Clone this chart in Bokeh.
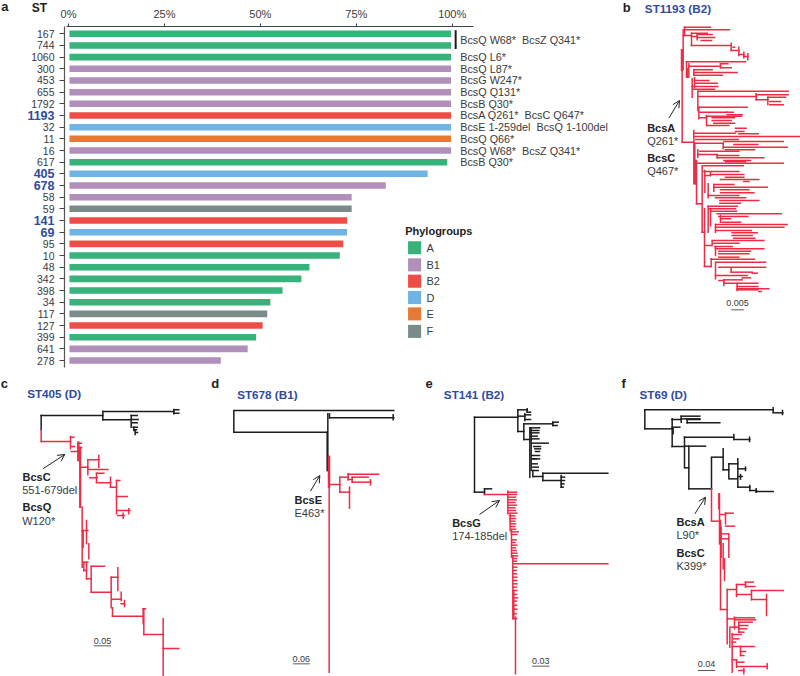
from bokeh.plotting import figure
from bokeh.models import (ColumnDataSource, Range1d, LinearAxis, FixedTicker, Arrow, OpenHead)
from bokeh.core.properties import value
from bokeh.embed import file_html
from bokeh.resources import INLINE

# ---------- panel a data ----------
ST = ["167","744","1060","300","453","655","1792","1193","32","11","16","617","405","678","58",
      "59","141","69","95","10","48","342","398","34","117","127","399","641","278"]
HIGHLIGHT = ["1193","405","678","141","69"]
PCT = [99.7,99.7,99.7,99.7,99.7,99.7,99.7,99.7,99.7,99.7,99.7,98.7,93.6,82.7,73.8,
       73.8,72.6,72.6,71.6,70.7,62.8,60.7,55.8,52.6,51.8,50.6,48.9,46.7,39.7]
GROUP = ["A","A","A","B1","B1","B1","B1","B2","D","E","B1","A","D","B1","B1",
         "F","B2","D","B2","A","A","A","A","A","F","B2","A","B1","B1"]
GROUP_NAMES = ["A","B1","B2","D","E","F"]
GROUP_COLORS = {"A":"#36b27a","B1":"#b08fba","B2":"#ee4d46","D":"#6fb4e3","E":"#e47a36","F":"#7b8b8a"}
PCT_TICKS = [0,25,50,75,100]
MUT_LABELS = ["BcsQ W68*\u00a0\u00a0BcsZ Q341*","BcsQ L6*","BcsQ L87*","BcsG W247*","BcsQ Q131*","BcsB Q30*",
              "BcsA Q261*\u00a0\u00a0BcsC Q647*","BcsE 1-259del\u00a0\u00a0BcsQ 1-100del","BcsQ Q66*","BcsQ W68*\u00a0\u00a0BcsZ Q341*","BcsB Q30*"]
MUT_ROWS = [0.5,2,3,4,5,6,7,8,9,10,11]
LEG_ROWS = [18.33,19.8,21.2,22.6,24.0,25.5]

# ---------- trees: (from, to, at), in tree units ----------
B_H = [(222,300,80),(222,357,88),(218,243,105),(243,290,98),(243,260,108),(260,305,102),(260,312,111),(272,303,120),
 (243,362,135),(362,385,150),(385,400,162),(400,412,168),(368,372,140),(228,405,184),(235,330,197),(330,352,190),(330,362,202),
 (250,305,208),(250,380,216),(250,335,224),(252,295,240),(255,320,248),(245,322,258),(248,312,266),
 (262,533,272),(262,437,288),(437,533,283),(437,472,298),(472,525,290),(478,510,303),(478,518,313),
 (265,410,320),(268,350,335),(350,368,335),(350,395,343),(268,288,352),(288,393,347),(305,372,352),(305,362,360),(310,372,368),(290,355,375),
 (215,250,425),(250,375,398),(375,407,383),(375,400,393),(385,443,400),(250,570,408),(255,383,417),(255,338,428),(340,518,423),(340,530,440),
 (370,442,432),(345,432,448),(262,268,462),(268,385,452),(270,320,462),(320,385,465),(320,460,472),(340,420,480),(345,405,484),(255,518,488),
 (280,398,496),(280,385,513),(300,400,522),(330,445,537),(345,400,530),(400,415,543),(283,300,525),
 (310,370,552),(310,470,560),(330,415,568),(330,430,577),(293,385,585),(315,405,592),(328,445,600),(328,390,608),
 (293,380,617),(295,375,625),(300,378,632),(320,512,640),(325,412,648),(330,360,655),(335,390,665),(315,530,672),(315,520,680),(315,422,690),
 (365,440,697),(365,425,705),(370,433,713),(258,275,610),(275,282,695),
 (305,460,720),(310,385,728),(313,365,738),(315,460,745),(325,420,752),(325,415,760),(325,385,770),(283,303,735),
 (282,300,798),(302,432,776),(315,465,785),(325,465,800),(362,425,815),(425,440,818),(315,410,825),(340,395,838),(395,420,832),(340,442,848),
 (380,442,858),(380,475,865),(445,452,873),(325,340,840),(380,442,868)]
B_V = [(215,148,425),(213,148,210),(218,88,208),(222,80,105),(243,98,135),(260,102,118),(362,128,150),(385,140,165),(400,155,172),(412,160,178),
 (228,184,230),(231,205,230),(235,190,230),(330,190,202),(250,208,224),(252,232,262),(245,235,290),(262,272,330),(437,280,298),(472,290,312),(265,320,355),
 (288,345,375),(250,390,550),(253,430,550),(338,428,445),(262,448,470),(320,462,472),(258,480,610),(255,480,550),(275,496,695),(283,510,575),(300,515,525),
 (310,552,572),(293,550,592),(293,617,695),(300,625,675),(315,672,695),(330,645,665),(282,625,798),(305,722,735),(315,738,765),(302,775,798),
 (315,787,835),(362,802,815),(340,838,855),(380,848,870)]
B_SCALE = (362,400,928)

C_BLACK_H = [(122,307,135),(307,520,123),(520,535,118),(520,535,128),(307,392,148),(392,410,135),(395,413,147),(395,410,157),(398,410,170),(402,408,178),(405,411,186)]
C_BLACK_V = [(122,135,178),(307,123,148),(520,117,130),(392,135,170),(400,170,180),(404,178,192)]
C_H = [(122,210,213),(210,220,200),(212,222,228),(212,232,243),(232,243,218),(232,243,232),(240,262,290),(262,295,268),(262,322,297),(268,290,322),
 (288,310,308),(288,330,337),(330,348,350),(348,358,330),(348,380,378),(352,388,420),(352,372,435),
 (245,262,480),(250,262,575),(250,258,600),(258,272,625),(272,312,587),(272,332,665),(332,352,620),(335,362,686),(362,372,700),
 (336,428,737),(428,435,715),(430,488,792),(488,535,834)]
C_V = [(122,178,213),(210,198,235),(232,215,270),(235,215,270),(238,230,410),(240,230,410),(262,268,313),(295,255,290),(288,308,335),(330,320,350),(348,330,430),
 (385,415,430),(368,428,443),(245,410,590),(258,450,520),(265,520,565),(248,480,530),(250,575,600),(258,575,625),(272,588,665),(332,620,712),
 (352,592,660),(362,665,690),(372,690,708),(336,712,737),(428,715,760),(430,715,792),(488,745,915)]
C_SCALE = (280,332,826)

D_BLACK_H = [(85,565,120),(85,365,185),(372,565,142)]
D_BLACK_V = [(85,122,185),(367,130,300),(365,185,300),(563,133,148),(372,130,142)]
D_H = [(370,403,342),(403,428,320),(428,520,311),(440,488,320),(440,495,335),(428,440,327),(403,432,365)]
D_V = [(371,258,905),(369,258,350),(372,258,350),(403,320,365),(428,310,328),(440,320,335),(495,328,343),(432,350,413)]
D_SCALE = (262,313,880)

E_BLACK_H = [(177,307,140),(307,335,118),(307,328,137),(328,345,133),(328,345,147),(307,325,183),(325,412,160),(412,428,155),(412,425,165),(325,343,207),
 (343,372,172),(343,370,180),(345,370,187),(345,365,197),(348,370,205),(350,398,218),(355,375,228),(358,375,235),(360,372,243),
 (348,372,255),(350,362,265),(350,372,265),(350,365,280),(352,368,290),(352,368,300),(352,382,318),(382,577,308),(382,435,330),
 (437,447,320),(437,447,330),(437,445,340),(437,443,350),(177,207,365),(207,228,355),(335,345,125)]
E_BLACK_V = [(177,140,365),(307,118,183),(335,115,125),(328,130,150),(325,160,207),(412,155,165),(343,172,320),(347,172,300),(352,300,318),(382,308,330),(437,315,350),(207,355,372)]
E_H = [(207,277,372),(277,303,365),(277,303,372),(278,300,380),(278,302,388),(279,298,396),(279,303,404),(280,298,412),(280,300,420),(281,304,428),
 (282,298,436),(283,300,444),(284,298,452),(285,300,460),(286,298,468),(287,308,484),(288,300,476),(288,304,492),(289,302,508),(289,298,516),(290,304,524),
 (290,300,532),(291,302,540),(291,304,548),(292,306,556),(292,302,564),(292,303,572),(292,577,580),(292,304,590),(292,302,600),(292,303,610),(292,304,620),
 (293,303,630),(293,304,640),(293,302,650),(294,304,660),(294,303,672),(294,306,682),(294,302,692),(294,303,704),(294,304,716),(294,302,730),(293,303,744)]
E_V = [(277,362,430),(284,430,480),(288,480,560),(292,556,745),(295,660,745),(300,740,910)]
E_SCALE = (350,402,887)

F_BLACK_H = [(103,488,118),(488,517,127),(103,185,175),(185,212,147),(212,268,137),(212,268,145),(230,268,147),(230,328,157),(185,208,170),(185,222,228),
 (222,370,200),(370,418,207),(225,285,227),(225,235,292),(235,303,355),(303,338,260),(338,355,298),(355,382,280),(382,405,295),(382,395,318),(358,380,325),
 (382,418,350),(418,438,360),(437,488,363)]
F_BLACK_V = [(103,118,175),(488,112,125),(516,120,132),(185,145,228),(212,137,155),(230,147,157),(222,200,292),(370,192,207),(417,200,213),(235,227,355),
 (303,262,355),(338,235,298),(355,280,325),(382,265,350),(405,290,300),(390,312,326),(418,345,360),(437,355,365),(188,175,190)]
F_H = [(303,327,452),(330,345,432),(345,368,428),(345,372,467),(335,352,490),(335,355,505),(330,350,717),(350,378,657),(378,405,642),(405,428,635),(405,433,648),
 (378,422,672),(423,518,660),(423,468,687),(350,372,745),(372,432,742),(372,435,748),(385,425,755),(385,412,765),(385,408,775),(385,400,785),(358,385,770),
 (365,392,792),(370,385,805),(365,375,815),(365,390,828),(390,432,828),(390,405,843),(390,400,855),(365,378,868),(378,400,875),(380,470,888),(385,400,900)]
F_V = [(303,355,450),(325,370,415),(327,370,520),(330,450,717),(332,470,560),(345,428,460),(355,490,560),(338,520,595),(342,565,630),(350,657,820),(378,642,678),(405,635,650),
 (423,660,688),(468,672,735),(372,740,775),(385,755,785),(358,775,830),(365,790,905),(390,828,855),(470,880,895),(400,895,910),(378,868,890)]
F_SCALE = (262,314,900)

# ---------- panel annotations: (x, y, text) ----------
TITLES = {"b":(103,23,"ST1193 (B2)"),"c":(80,70,"ST405 (D)"),"d":(95,72,"ST678 (B1)"),"e":(85,72,"ST141 (B2)"),"f":(87,72,"ST69 (D)")}
LETTERS = {"b":(37,22),"c":(1,40),"d":(17,38),"e":(30,38),"f":(33,38)}
BOLD = {"b":[(110,381,"BcsA"),(110,472,"BcsC")],"c":[(66,318,"BcsC"),(66,410,"BcsQ")],"d":[(267,388,"BcsE")],"e":[(110,457,"BcsG")],"f":[(198,455,"BcsA"),(198,546,"BcsC")]}
PLAIN = {"b":[(110,420,"Q261*"),(110,512,"Q467*")],"c":[(65,357,"551-679del"),(65,450,"W120*")],"d":[(267,428,"E463*")],"e":[(110,497,"174-185del")],"f":[(198,493,"L90*"),(198,585,"K399*")]}
ARROWS = {"b":(175,353,207,300),"c":(127,295,193,252),"d":(315,362,343,315),"e":(192,432,252,390),"f":(253,430,285,380)}
SCALES = {"b":(B_SCALE,"0.005",907),"c":(C_SCALE,"0.05",810),"d":(D_SCALE,"0.06",865),"e":(E_SCALE,"0.03",870),"f":(F_SCALE,"0.04",880)}
TREES = {"b":([],[],B_H,B_V),"c":(C_BLACK_H,C_BLACK_V,C_H,C_V),"d":(D_BLACK_H,D_BLACK_V,D_H,D_V),
         "e":(E_BLACK_H,E_BLACK_V,E_H,E_V),"f":(F_BLACK_H,F_BLACK_V,F_H,F_V)}
ORIGINS = {"b":(610,0),"c":(0,370),"d":(205,370),"e":(415,370),"f":(610,370)}

W, H = 800, 676
FONT = value("Liberation Sans")
TXT = "#3a3a3a"; NAVY = "#2f4b9f"; TREE_RED = "#ee2a45"; TREE_BLACK = "#1c1c1c"

p = figure(width=W, height=H, output_backend="svg", toolbar_location=None,
           x_axis_location=None, y_axis_location=None, min_border=0,
           x_range=Range1d((0-68)/3.837,(W-68)/3.837), y_range=Range1d((H-33.3)/11.67,(0-33.3)/11.67))
p.outline_line_color = None
p.grid.visible = False
p.background_fill_color = "white"

rows = list(range(len(ST)))
p.hbar(y=rows, left=0.25, right=PCT, height=0.56, color=[GROUP_COLORS[g] for g in GROUP], line_color=None)

top = LinearAxis(fixed_location=-0.63, ticker=FixedTicker(ticks=PCT_TICKS),
                 major_label_overrides={t:f"{t}%" for t in PCT_TICKS}, bounds=(-0.5,105.5))
top.major_tick_out=3; top.major_tick_in=0; top.minor_tick_line_color=None; top.axis_line_color="#444444"; top.major_tick_line_color="#444444"
top.major_label_text_font="Liberation Sans"; top.major_label_text_font_size="11px"; top.major_label_text_color=TXT; top.major_label_standoff=3
p.add_layout(top,"above")

plain_rows=[r for r in rows if ST[r] not in HIGHLIGHT]; blue_rows=[r for r in rows if ST[r] in HIGHLIGHT]
ax1 = LinearAxis(fixed_location=-1.04, ticker=FixedTicker(ticks=plain_rows),
                 major_label_overrides={r:ST[r] for r in plain_rows}, bounds=(-0.63,28.6))
ax1.major_tick_out=5; ax1.major_tick_in=0; ax1.minor_tick_line_color=None; ax1.axis_line_color="#555555"; ax1.major_tick_line_color="#444444"; ax1.axis_line_width=1.2
ax1.major_label_text_font="Liberation Sans"; ax1.major_label_text_font_size="10.5px"; ax1.major_label_text_color=TXT; ax1.major_label_standoff=5
ax1.major_label_orientation="horizontal"
p.add_layout(ax1,"left")
ax2 = LinearAxis(fixed_location=-1.04, ticker=FixedTicker(ticks=blue_rows),
                 major_label_overrides={r:ST[r] for r in blue_rows}, bounds=(-0.63,28.6))
ax2.major_tick_out=5; ax2.major_tick_in=0; ax2.minor_tick_line_color=None; ax2.axis_line_color=None; ax2.major_tick_line_color="#444444"
ax2.major_label_text_font="Liberation Sans"; ax2.major_label_text_font_style="bold"; ax2.major_label_text_font_size="12.5px"; ax2.major_label_text_color=NAVY; ax2.major_label_standoff=5
ax2.major_label_orientation="horizontal"
p.add_layout(ax2,"left")

p.text(x=-17.5,y=-2.33,text=["a"],text_font=FONT,text_font_style="bold",text_font_size="13px",text_color="#222222",text_baseline="middle")
p.text(x=-9.6,y=-2.23,text=["ST"],text_font=FONT,text_font_style="bold",text_font_size="12px",text_color="#222222",text_baseline="middle")
p.text(x=[102.1]*len(MUT_ROWS),y=MUT_ROWS,text=MUT_LABELS,text_font=FONT,text_font_size="10.8px",text_color=TXT,text_baseline="middle")
p.segment(x0=[100.9],y0=[-0.3],x1=[100.9],y1=[1.3],line_color="#1a1a1a",line_width=2)

p.rect(x=[90.2]*6,y=LEG_ROWS,width=3.4,height=1.12,color=[GROUP_COLORS[g] for g in GROUP_NAMES],line_color=None)
p.text(x=[93.3]*6,y=LEG_ROWS,text=GROUP_NAMES,text_font=FONT,text_font_size="11px",text_color=TXT,text_baseline="middle")
p.text(x=[87.75],y=[16.92],text=["Phylogroups"],text_font=FONT,text_font_style="bold",text_font_size="11px",text_color="#222222",text_baseline="middle")

def seg(name,h,v,color):
    x0=[a for a,b,c in h]+[a for a,b,c in v]
    x1=[b for a,b,c in h]+[a for a,b,c in v]
    y0=[c for a,b,c in h]+[b for a,b,c in v]
    y1=[c for a,b,c in h]+[c for a,b,c in v]
    p.segment(x0=x0,y0=y0,x1=x1,y1=y1,line_color=color,line_width=1.5,line_cap="square",x_range_name=name,y_range_name=name)

for name,(ox,oy) in ORIGINS.items():
    p.extra_x_ranges[name]=Range1d((0-ox)*3,(W-ox)*3)
    p.extra_y_ranges[name]=Range1d((H-oy)*3,(0-oy)*3)
    kw=dict(x_range_name=name,y_range_name=name)
    bh,bv,rh,rv=TREES[name]
    if bh: seg(name,bh,bv,TREE_BLACK)
    seg(name,rh,rv,TREE_RED)
    tx,ty,t=TITLES[name]
    p.text(x=[tx],y=[ty],text=[t],text_font=FONT,text_font_style="bold",text_font_size="11.7px",text_color=NAVY,text_baseline="middle",**kw)
    lx,ly=LETTERS[name]
    p.text(x=[lx],y=[ly],text=[name],text_font=FONT,text_font_style="bold",text_font_size="13px",text_color="#222222",text_baseline="middle",**kw)
    b=BOLD[name]; q=PLAIN[name]
    p.text(x=[i[0] for i in b],y=[i[1] for i in b],text=[i[2] for i in b],text_font=FONT,text_font_style="bold",text_font_size="11px",text_color="#222222",text_baseline="middle",**kw)
    p.text(x=[i[0] for i in q],y=[i[1] for i in q],text=[i[2] for i in q],text_font=FONT,text_font_size="11px",text_color=TXT,text_baseline="middle",**kw)
    ax0,ay0,ax1_,ay1=ARROWS[name]
    p.add_layout(Arrow(end=OpenHead(size=7,line_width=1,line_color="#222222"),x_start=ax0,y_start=ay0,x_end=ax1_,y_end=ay1,
                       line_color="#222222",line_width=1,x_range_name=name,y_range_name=name))
    (s0,s1,sy),st,ty2=SCALES[name]
    p.segment(x0=[s0],y0=[sy],x1=[s1],y1=[sy],line_color="#333333",line_width=0.8,**kw)
    p.text(x=[(s0+s1)/2],y=[ty2],text=[st],text_font=FONT,text_font_size="9px",text_color=TXT,text_align="center",text_baseline="middle",**kw)

open("out.html","w").write(file_html(p,INLINE))
